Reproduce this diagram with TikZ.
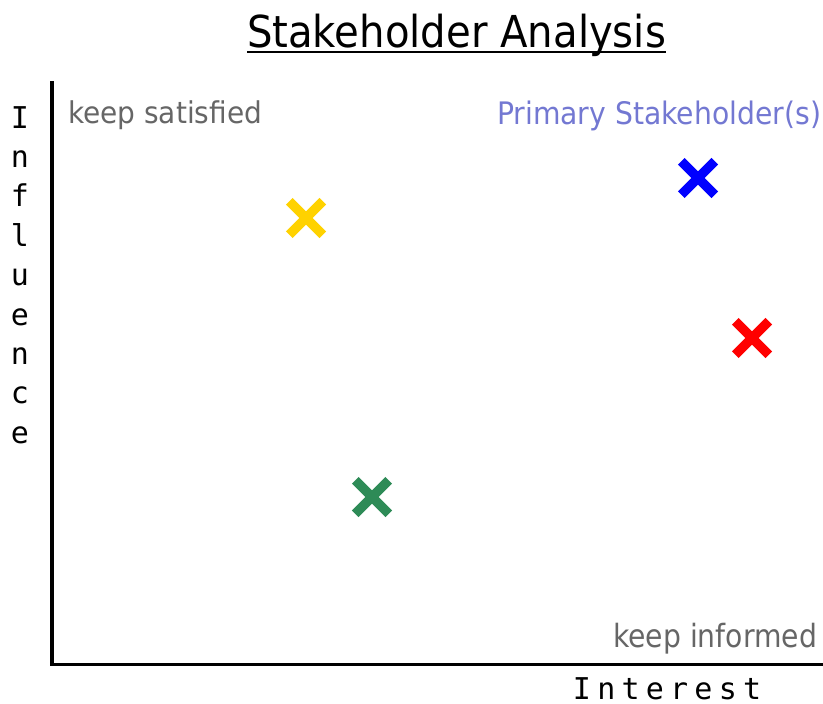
\documentclass[tikz,border=0pt]{standalone}
\usepackage{fontspec}
\setmainfont{DejaVu Sans}
\newfontfamily\monof{DejaVu Sans Mono}
\usetikzlibrary{shapes.misc,calc}
\definecolor{labgray}{RGB}{102,102,102}
\definecolor{primblue}{RGB}{115,120,210}
\definecolor{xyellow}{RGB}{255,210,0}
\definecolor{xgreen}{RGB}{46,139,87}
\definecolor{xblue}{RGB}{0,0,255}
\definecolor{xred}{RGB}{255,0,0}
\newcommand\fitw[2]{\resizebox{#1}{\height}{#2}}
\tikzset{
  txt/.style={inner sep=0pt, outer sep=0pt, anchor=base west},
  xmark/.style={cross out, draw=#1, line width=9.5pt, minimum size=24pt, inner sep=0pt},
  axisline/.style={line width=3.2pt, line join=miter},
  axletter/.style={inner sep=0pt, anchor=base, font=\monof\fontsize{30}{36}\selectfont}
}
\begin{document}
\begin{tikzpicture}[x=1pt,y=-1pt]
\useasboundingbox (0,0) rectangle (823,704);
% title
\node[txt, font=\fontsize{44}{52}\selectfont] (title) at (247,47) {\fitw{419pt}{Stakeholder Analysis}};
\coordinate (ul1) at ($(title.base west)+(0,5)$);
\coordinate (ul2) at ($(title.base east)+(0,5)$);
\draw[line width=2.5pt] (ul1) -- (ul2);
% axes
\coordinate (ytop) at (52,81);
\coordinate (origin) at (52,664.5);
\coordinate (xend) at (823,664.5);
\draw[axisline] (ytop) -- (origin) -- (xend);
% quadrant labels
\node[txt, text=labgray, font=\fontsize{30}{36}\selectfont] (ks) at (68,123) {\fitw{194pt}{keep satisfied}};
\node[txt, text=primblue, font=\fontsize{31}{37}\selectfont] (ps) at (497,124) {\fitw{324pt}{Primary Stakeholder(s)}};
\node[txt, text=labgray, font=\fontsize{32}{38}\selectfont] (ki) at (613,647) {\fitw{204pt}{keep informed}};
% markers
\node[xmark=xyellow] (my) at (306,218) {};
\node[xmark=xgreen] (mg) at (372,497) {};
\node[xmark=xblue] (mb) at (698,178) {};
\node[xmark=xred] (mr) at (752,338) {};
% Influence (vertical)
\foreach \ch [count=\i from 0] in {I,n,f,l,u,e,n,c,e} {
  \node[axletter] (inf\i) at (20,128+39.4*\i) {\ch};
}
% Interest
\foreach \ch [count=\i from 0] in {I,n,t,e,r,e,s,t} {
  \node[axletter] (int\i) at (582+24.3*\i,699) {\ch};
}
\end{tikzpicture}
\end{document}
